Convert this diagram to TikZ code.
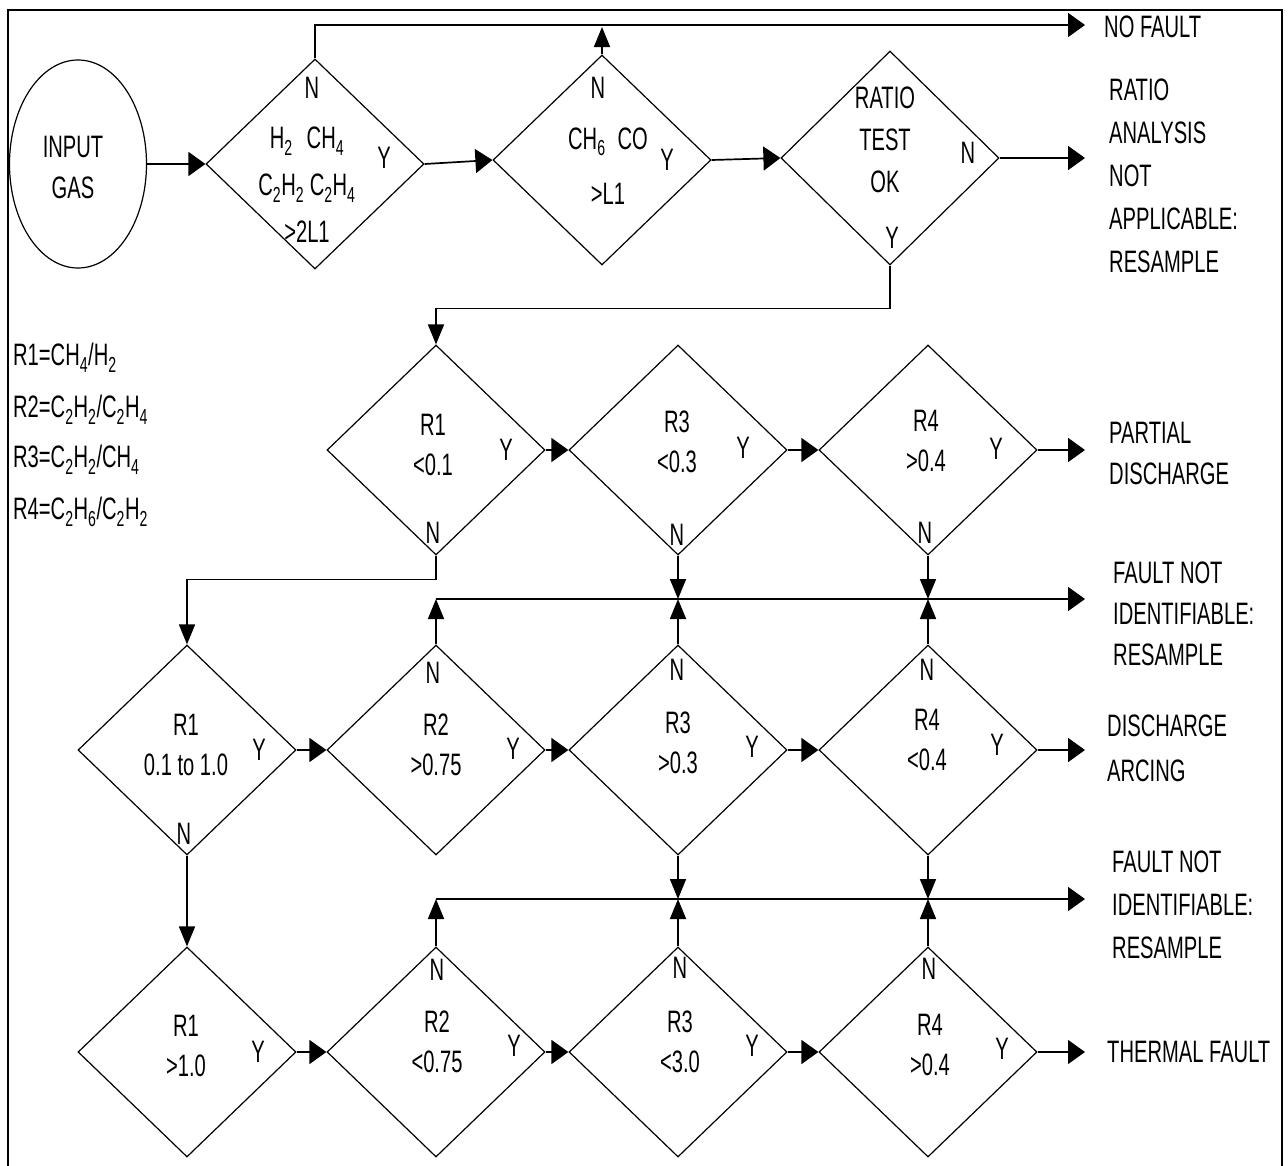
\documentclass[tikz,border=0pt]{standalone}
\usepackage{fontspec}
\setmainfont[FakeStretch=0.65]{Liberation Sans}
\usetikzlibrary{shapes.geometric,arrows.meta}
\begin{document}
\begin{tikzpicture}[x=1pt,y=-1pt,
  dia/.style={draw, diamond, minimum width=218pt, minimum height=210pt, inner sep=0pt, line width=1.2pt},
  txt/.style={inner sep=0pt, align=center, font=\fontsize{31}{40}\selectfont},
  lft/.style={inner sep=0pt, align=left, anchor=west, font=\fontsize{31}{42}\selectfont},
  conn/.style={line width=1.7pt},
  harrow/.style={conn, -{Triangle[length=17pt,width=24pt]}},
  varrow/.style={conn, -{Triangle[length=20pt,width=16pt]}},
]
\useasboundingbox (0,0) rectangle (1288,1165);
\clip (0,0) rectangle (1288,1165);
\draw[line width=2.5pt] (8,10) rectangle (1282,1190);

% coordinates for outputs
\coordinate (ax) at (1085,0);
\coordinate (nf) at (1085,25);
\coordinate (f1) at (436,599);
\coordinate (f2) at (436,899);

% input
\node[draw, ellipse, minimum width=137pt, minimum height=208pt, line width=1.2pt, inner sep=0pt] (IN) at (78,164) {};
\node[txt, font=\fontsize{31}{41}\selectfont] (INt) at (73,167) {INPUT\\GAS};

% row 1
\node[dia] (D1) at (315,164) {};
\node[dia] (D2) at (602,160) {};
\node[dia, minimum height=214pt] (D3) at (890,158) {};
\node[txt, font=\fontsize{31}{47}\selectfont] (D1t) at (307,185) {H\textsubscript{2}\hspace{14pt}CH\textsubscript{4}\\C\textsubscript{2}H\textsubscript{2} C\textsubscript{2}H\textsubscript{4}\\>2L1};
\node[txt] (D1n) at (312,88) {N};
\node[txt] (D1y) at (384,158) {Y};
\node[txt, font=\fontsize{31}{55}\selectfont] (D2t) at (608,166) {CH\textsubscript{6}\hspace{12pt}CO\\>L1};
\node[txt] (D2n) at (598,88) {N};
\node[txt] (D2y) at (667,160) {Y};
\node[txt, font=\fontsize{31}{42}\selectfont] (D3t) at (885,140) {RATIO\\TEST\\OK};
\node[txt] (D3n) at (968,153) {N};
\node[txt] (D3y) at (892,238) {Y};

% row 2
\node[dia] (D4) at (436,450) {};
\node[dia] (D5) at (678,450) {};
\node[dia] (D6) at (928,450) {};
\node[txt] (D4t) at (433,445) {R1\\<0.1};
\node[txt] (D4y) at (506,450) {Y};
\node[txt] (D4n) at (433,533) {N};
\node[txt] (D5t) at (677,442) {R3\\<0.3};
\node[txt] (D5y) at (743,448) {Y};
\node[txt] (D5n) at (677,535) {N};
\node[txt] (D6t) at (926,441) {R4\\>0.4};
\node[txt] (D6y) at (996,449) {Y};
\node[txt] (D6n) at (925,533) {N};

% row 3
\node[dia] (D7) at (187,750) {};
\node[dia] (D8) at (436,750) {};
\node[dia] (D9) at (678,750) {};
\node[dia] (D10) at (928,750) {};
\node[txt] (D7t) at (186,745) {R1\\0.1 to 1.0};
\node[txt] (D7y) at (259,750) {Y};
\node[txt] (D7n) at (184,834) {N};
\node[txt] (D8t) at (436,745) {R2\\>0.75};
\node[txt] (D8y) at (513,749) {Y};
\node[txt] (D8n) at (433,673) {N};
\node[txt] (D9t) at (678,743) {R3\\>0.3};
\node[txt] (D9y) at (752,747) {Y};
\node[txt] (D9n) at (677,670) {N};
\node[txt] (D10t) at (927,740) {R4\\<0.4};
\node[txt] (D10y) at (997,745) {Y};
\node[txt] (D10n) at (927,670) {N};

% row 4
\node[dia] (D11) at (187,1052) {};
\node[dia] (D12) at (436,1052) {};
\node[dia] (D13) at (678,1052) {};
\node[dia] (D14) at (928,1052) {};
\node[txt] (D11t) at (186,1046) {R1\\>1.0};
\node[txt] (D11y) at (258,1052) {Y};
\node[txt] (D12t) at (437,1042) {R2\\<0.75};
\node[txt] (D12y) at (514,1046) {Y};
\node[txt] (D12n) at (437,970) {N};
\node[txt] (D13t) at (680,1042) {R3\\<3.0};
\node[txt] (D13y) at (752,1046) {Y};
\node[txt] (D13n) at (680,968) {N};
\node[txt] (D14t) at (930,1045) {R4\\>0.4};
\node[txt] (D14y) at (1002,1049) {Y};
\node[txt] (D14n) at (929,969) {N};

% legend
\node[lft] (L1) at (13,358) {R1=CH\textsubscript{4}/H\textsubscript{2}};
\node[lft] (L2) at (13,410) {R2=C\textsubscript{2}H\textsubscript{2}/C\textsubscript{2}H\textsubscript{4}};
\node[lft] (L3) at (13,460) {R3=C\textsubscript{2}H\textsubscript{2}/CH\textsubscript{4}};
\node[lft] (L4) at (13,512) {R4=C\textsubscript{2}H\textsubscript{6}/C\textsubscript{2}H\textsubscript{2}};

% outputs
\node[lft] (O1) at (1104,27) {NO FAULT};
\node[lft, font=\fontsize{31}{43}\selectfont] (O2) at (1109,176) {RATIO\\ANALYSIS\\NOT\\APPLICABLE:\\RESAMPLE};
\node[lft, font=\fontsize{31}{41}\selectfont] (O3) at (1109,453) {PARTIAL\\DISCHARGE};
\node[lft, font=\fontsize{31}{41}\selectfont] (O4) at (1113,614) {FAULT NOT\\IDENTIFIABLE:\\RESAMPLE};
\node[lft, font=\fontsize{31}{45}\selectfont] (O5) at (1107,748) {DISCHARGE\\ARCING};
\node[lft, font=\fontsize{31}{43}\selectfont] (O6) at (1112,905) {FAULT NOT\\IDENTIFIABLE:\\RESAMPLE};
\node[lft] (O7) at (1107,1052) {THERMAL FAULT};

% connectors row 1
\draw[harrow] (IN.east) -- (D1.west);
\draw[harrow] (D1.east) -- (D2.west);
\draw[harrow] (D2.east) -- (D3.west);
\draw[harrow] (D1.north) |- (nf);
\draw[varrow, shorten >=2pt] (D2.north) -- (D2.north |- nf);
\draw[harrow] (D3.east) -- (D3.east -| ax);
\draw[varrow] (D3.south) -- ++(0,43) -| (D4.north);

% row 2
\draw[harrow] (D4.east) -- (D5.west);
\draw[harrow] (D5.east) -- (D6.west);
\draw[harrow] (D6.east) -- (D6.east -| ax);
\draw[varrow] (D4.south) -- ++(0,24) -| (D7.north);

% fault line 1
\draw[harrow] (f1) -- (f1 -| ax);
\draw[varrow] (D8.north) -- (f1);
\draw[varrow] (D5.south) -- (D5.south |- f1);
\draw[varrow] (D9.north) -- (D9.north |- f1);
\draw[varrow] (D6.south) -- (D6.south |- f1);
\draw[varrow] (D10.north) -- (D10.north |- f1);

% row 3
\draw[harrow] (D7.east) -- (D8.west);
\draw[harrow] (D8.east) -- (D9.west);
\draw[harrow] (D9.east) -- (D10.west);
\draw[harrow] (D10.east) -- (D10.east -| ax);
\draw[varrow] (D7.south) -- (D11.north);

% fault line 2
\draw[harrow] (f2) -- (f2 -| ax);
\draw[varrow] (D12.north) -- (f2);
\draw[varrow] (D9.south) -- (D9.south |- f2);
\draw[varrow] (D13.north) -- (D13.north |- f2);
\draw[varrow] (D10.south) -- (D10.south |- f2);
\draw[varrow] (D14.north) -- (D14.north |- f2);

% row 4
\draw[harrow] (D11.east) -- (D12.west);
\draw[harrow] (D12.east) -- (D13.west);
\draw[harrow] (D13.east) -- (D14.west);
\draw[harrow] (D14.east) -- (D14.east -| ax);
\end{tikzpicture}
\end{document}
